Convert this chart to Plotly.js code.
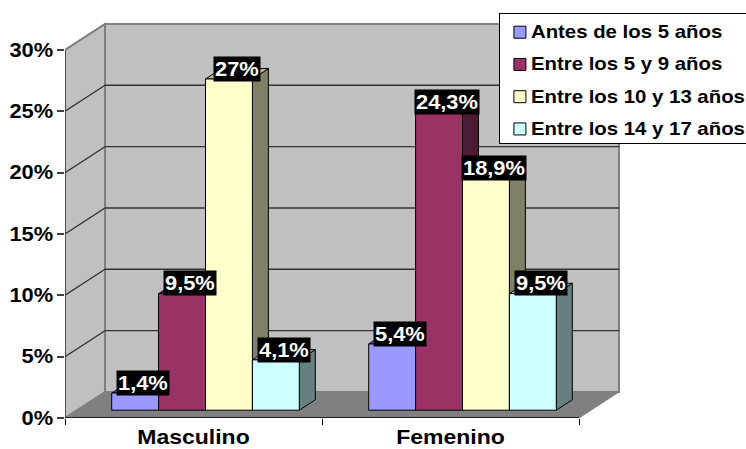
<!DOCTYPE html>
<html>
<head>
<meta charset="utf-8">
<script src="https://cdn.plot.ly/plotly-3.0.1.min.js"></script>
<style>
html,body{margin:0;padding:0;background:#fff;overflow:hidden}
#chart{width:746px;height:449px}
.legendtext{transform-box:fill-box;transform-origin:left center;scale:1.165 1;translate:-9px -1px}
.legend rect.bg{height:130px}
.xtick text{transform-box:fill-box;transform-origin:center;scale:1.18 1}
.ytick text{transform-box:fill-box;transform-origin:right center;scale:1.12 1}
.annotation-text{transform-box:fill-box;transform-origin:center;scale:1.12 1}
</style>
</head>
<body>
<div id="chart"></div>
<script>
const categories = ["Masculino", "Femenino"];
const seriesNames = ["Antes de los 5 años", "Entre los 5 y 9 años", "Entre los 10 y 13 años", "Entre los 14 y 17 años"];
const antes5 = [1.4, 5.4];
const entre5y9 = [9.5, 24.3];
const entre10y13 = [27, 18.9];
const entre14y17 = [4.1, 9.5];
const dataLabels = [["1,4%", "5,4%"], ["9,5%", "24,3%"], ["27%", "18,9%"], ["4,1%", "9,5%"]];
const yTicks = [0, 5, 10, 15, 20, 25, 30];
const frontColors = ["#9999FF", "#993366", "#FFFFCC", "#CCFFFF"];
const topColors = ["#7373BF", "#73264D", "#BFBF99", "#99BFBF"];
const sideColors = ["#4D4D80", "#4D1A33", "#808066", "#668080"];

const values = [antes5, entre5y9, entre10y13, entre14y17];
// Oblique projection: how far the full floor depth shifts a point, in axis units
const depthX = 0.1556, depthY = 2.12;
const barWidth = 0.1825, barFront = 0.3, barDepth = 0.4, yMax = 30, xMax = 2;
const P = (x, y, d) => [x + d * depthX, y + d * depthY];
const poly = (pts, fill, line, w, layer) => ({
  type: 'shape', xref: 'x', yref: 'y', layer: layer || 'below',
  path: 'M' + pts.map(p => p.join(' ')).join('L') + 'Z',
  fillcolor: fill, line: {color: line, width: w}
});
const seg = (a, b, color, w) => ({
  type: 'line', xref: 'x', yref: 'y', layer: 'below',
  x0: a[0], y0: a[1], x1: b[0], y1: b[1], line: {color: color, width: w}
});

const shapes = [];
// walls and floor
shapes.push(poly([P(0,0,1), P(xMax,0,1), P(xMax,yMax,1), P(0,yMax,1)], '#C0C0C0', '#808080', 2));
shapes.push(poly([P(0,0,0), P(0,0,1), P(0,yMax,1), P(0,yMax,0)], '#C0C0C0', '#808080', 2));
shapes.push(poly([P(0,0,0), P(xMax,0,0), P(xMax,0,1), P(0,0,1)], '#808080', '#808080', 1));
yTicks.slice(1, -1).forEach(v => {
  shapes.push(seg(P(0,v,0), P(0,v,1), '#2b2b2b', 1.2));
  shapes.push(seg(P(0,v,1), P(xMax,v,1), '#333333', 1.4));
});
shapes.push(seg(P(0,yMax,0), P(0,yMax,1), '#808080', 1.5));
shapes.push(seg(P(0,yMax,1), P(xMax,yMax,1), '#808080', 2));

const base = barFront * depthY;
const traces = [];
const annotations = [];
const centre = (c, s) => c + 0.5 + barFront * depthX + (s - 1.5) * barWidth;
const labelWidth = t => 2 + 21.84 * [...t].reduce((a, ch) => a + (ch === ',' ? 0.278 : ch === '%' ? 0.889 : 0.556), 0);

// bar side and top faces, series by series, under the front faces
categories.forEach((_, c) => {
  values.forEach((vals, s) => {
    const x0 = centre(c, s) - barWidth / 2, x1 = x0 + barWidth, top = base + vals[c];
    shapes.push(poly([P(x1,base,0), P(x1,base,barDepth), P(x1,top,barDepth), P(x1,top,0)], sideColors[s], '#000000', 1));
    shapes.push(poly([P(x0,top,0), P(x1,top,0), P(x1,top,barDepth), P(x0,top,barDepth)], topColors[s], '#000000', 1));
  });
});

values.forEach((vals, s) => {
  traces.push({
    type: 'bar', name: seriesNames[s],
    legendgroup: 'g' + s,
    x: categories.map((_, c) => centre(c, s)),
    y: vals, base: vals.map(() => base), width: barWidth,
    marker: {color: frontColors[s], line: {color: '#000000', width: 1}},
    hoverinfo: 'skip'
  });
  vals.forEach((v, c) => {
    const p = P(centre(c, s), base + v, barDepth / 2);
    annotations.push({
      xref: 'x', yref: 'y', x: p[0], y: p[1] + barDepth / 2 * depthY,
      text: '<b>' + dataLabels[s][c] + '</b>',
      showarrow: false, bgcolor: '#000000', borderpad: 0, height: 24, width: labelWidth(dataLabels[s][c]),
      align: 'center', valign: 'middle',
      font: {family: 'Liberation Sans', size: 19.5, color: '#FFFFFF'},
      xanchor: 'center', yanchor: 'middle'
    });
  });
});

// axis lines (left and bottom of the front plane)
traces.push({type: 'scatter', mode: 'lines', x: [0, 0], y: [0, yMax], showlegend: false, cliponaxis: false,
  line: {color: '#404040', width: 1.5}, hoverinfo: 'skip'});
traces.push({type: 'scatter', mode: 'lines', x: [0, xMax], y: [0, 0], showlegend: false, cliponaxis: false,
  line: {color: '#000000', width: 1.5}, hoverinfo: 'skip'});

const axisFont = {family: 'Liberation Sans', size: 19.5, color: '#000000', weight: 700};
const layout = {
  width: 746, height: 449,
  margin: {l: 65, r: 116, t: 20, b: 31, pad: 0, autoexpand: false},
  paper_bgcolor: '#FFFFFF', plot_bgcolor: '#FFFFFF',
  barmode: 'overlay', showlegend: true,
  shapes: shapes, annotations: annotations,
  xaxis: {
    range: [0, 565 / 257], showgrid: false, zeroline: false, showline: false,
    tickmode: 'array', tickvals: [0.5, 1.5], ticktext: categories, ticks: '', tickfont: axisFont,
    ticklabelstandoff: 6,
    minor: {tickmode: 'array', tickvals: [0, 1, 2], ticks: 'outside', ticklen: 6, tickwidth: 1, tickcolor: '#000000', showgrid: false}
  },
  yaxis: {
    range: [0, 398 / 12.267], showgrid: false, zeroline: false, showline: false,
    tickmode: 'array', tickvals: yTicks, ticktext: yTicks.map(v => v + '%'),
    ticks: 'outside', ticklen: 7, tickwidth: 1.5, tickcolor: '#404040', tickfont: axisFont
  },
  legend: {
    x: 0.768, y: 1.0168, xanchor: 'left', yanchor: 'top',
    bgcolor: '#FFFFFF', bordercolor: '#000000', borderwidth: 1,
    font: {family: 'Liberation Sans', size: 17.5, color: '#000000', weight: 700},
    traceorder: 'grouped', tracegroupgap: 6.5, itemclick: false, itemdoubleclick: false
  }
};
Plotly.newPlot('chart', traces, layout, {displayModeBar: false}).then(() => {
  // the stretch also scales each label's own offset, so take that offset back out
  document.querySelectorAll('.xtick text').forEach(t => {
    const m = t.transform.baseVal.consolidate();
    const tx = m ? m.matrix.e : 0;
    t.style.translate = (-0.18 * tx) + 'px 0px';
  });
});
</script>
</body>
</html>
